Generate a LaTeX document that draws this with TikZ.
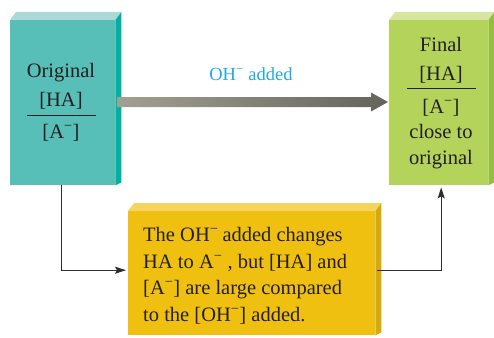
\documentclass[tikz,border=0pt]{standalone}
\usepackage{fontspec}
\setmainfont{Liberation Serif}
\usetikzlibrary{arrows.meta}
\definecolor{tealF}{RGB}{88,190,184}
\definecolor{tealT}{RGB}{170,218,214}
\definecolor{tealS}{RGB}{0,176,160}
\definecolor{grnF}{RGB}{179,211,90}
\definecolor{grnT}{RGB}{214,230,160}
\definecolor{grnS}{RGB}{150,190,60}
\definecolor{yelF}{RGB}{240,192,16}
\definecolor{yelT}{RGB}{246,212,96}
\definecolor{yelS}{RGB}{214,170,10}
\definecolor{txtc}{RGB}{35,31,32}
\definecolor{connc}{RGB}{45,45,45}
\definecolor{bluet}{RGB}{30,170,230}
\definecolor{arrL}{RGB}{162,160,146}
\definecolor{arrM}{RGB}{150,150,136}
\definecolor{arrR}{RGB}{100,100,92}
\newcommand{\mneg}{\textsuperscript{−}}
\newcommand{\boxfaces}[3]{%
  \fill[#2] (#1.north west) -- ++(6,-8) -- ([shift={(6,-8)}]#1.north east) -- (#1.north east) -- cycle;
  \fill[#3] (#1.north east) -- ++(6,-8) -- ([shift={(6,-3)}]#1.south east) -- (#1.south east) -- cycle;}
\tikzset{
  front/.style={inner sep=0pt, anchor=north west, draw=none},
  txt/.style={text=txtc, font=\fontsize{20.5}{26.7}\selectfont, inner sep=0pt, anchor=base},
  rule/.style={draw=txtc, line width=1pt},
  conn/.style={draw=connc, line width=1pt, shorten >=2pt, -{Stealth[length=11pt,width=7pt,inset=2pt]}},
}
\begin{document}
\begin{tikzpicture}[x=1pt,y=-1pt]
\useasboundingbox (0,0) rectangle (494,337);
\clip (0,0) rectangle (494,337);
% boxes
\node[front, fill=tealF, minimum width=105pt, minimum height=165pt] (orig) at (10,20) {};
\boxfaces{orig}{tealT}{tealS}
\node[front, fill=grnF, minimum width=99pt, minimum height=165pt] (fin) at (389,20) {};
\boxfaces{fin}{grnT}{grnS}
\node[front, fill=yelF, minimum width=247pt, minimum height=124pt] (yel) at (128,211) {};
\boxfaces{yel}{yelT}{yelS}
% big arrow
\shade[left color=arrL, middle color=arrM, right color=arrR]
  (117,97) -- (371,97) -- (371,92.5) -- (388,102) -- (371,111.5) -- (371,107) -- (117,107) -- cycle;
\node[text=bluet, font=\fontsize{18.5}{22}\selectfont, inner sep=0pt, anchor=base] (oh) at (251,80) {OH\mneg\ added};
% left text
\node[txt] (o1) at (61,77) {Original};
\node[txt] (o2) at (61,106) {[HA]};
\draw[rule] (27,115) -- (96,115);
\node[txt] (o3) at (61,138) {[A\mneg]};
% right text
\node[txt] (f1) at (441,52) {Final};
\node[txt] (f2) at (441,80) {[HA]};
\draw[rule] (407,88) -- (476,88);
\node[txt] (f3) at (441,113) {[A\mneg]};
\node[txt] (f4) at (441,138) {close to};
\node[txt] (f5) at (441,164) {original};
% yellow text
\node[txt, anchor=base west] (y1) at (143,241) {The OH\mneg\hspace{0.2em}added changes};
\node[txt, anchor=base west] (y2) at (143,268) {HA to A\mneg\ , but [HA] and};
\node[txt, anchor=base west] (y3) at (143,294) {[A\mneg] are large compared};
\node[txt, anchor=base west] (y4) at (143,321) {to the [OH\mneg] added.};
% connectors
\draw[conn] ([xshift=-1.5pt]orig.south) |- ([yshift=3pt]yel.west);
\draw[conn] ([shift={(2pt,3pt)}]yel.east) -| ([xshift=2.5pt]fin.south);
\end{tikzpicture}
\end{document}
